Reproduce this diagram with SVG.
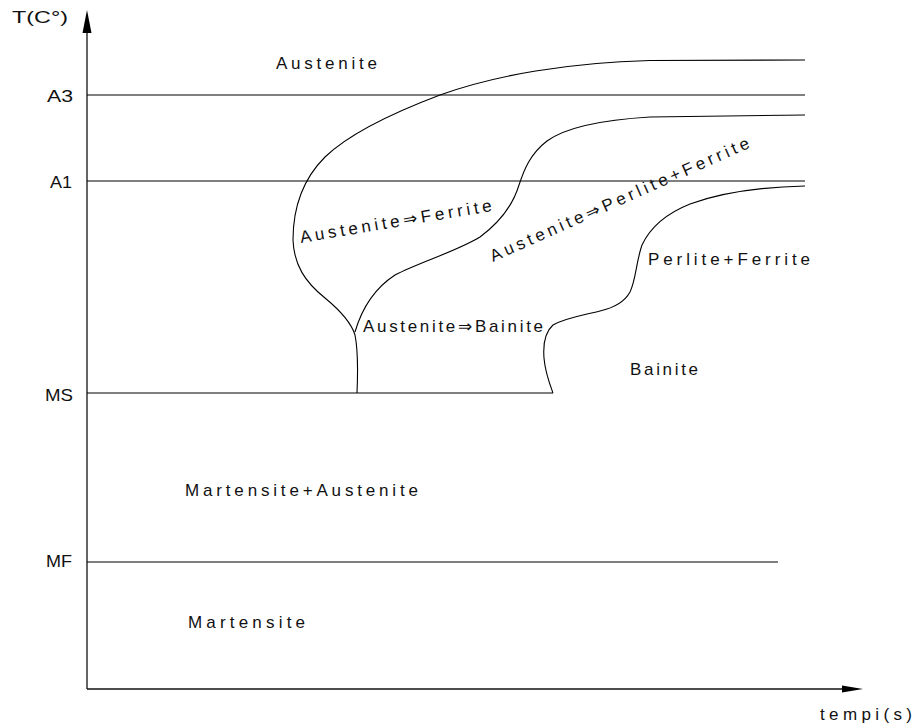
<svg xmlns="http://www.w3.org/2000/svg" width="913" height="727" viewBox="0 0 913 727">
  <style>
    .ln { fill: none; stroke: #000; stroke-width: 1.1; }
    .ax { fill: none; stroke: #111; stroke-width: 1.3; }
    .lbl { font-family: "Liberation Sans", "DejaVu Sans", Arial, sans-serif; font-size: 17px; fill: #111; }
  </style>
  <rect width="913" height="727" fill="#fff"/>

  <!-- axes -->
  <g id="axes">
    <line class="ax" x1="87" y1="689" x2="87" y2="30"/>
    <polygon points="87,10 82.5,33 91.5,33" fill="#000"/>
    <line class="ax" x1="87" y1="689" x2="845" y2="689"/>
    <polygon points="863,689 842,685.5 842,692.5" fill="#000"/>
  </g>

  <!-- reference temperature lines -->
  <g id="levels">
    <line class="ln" x1="87" y1="95" x2="805" y2="95"/>
    <line class="ln" x1="87" y1="181" x2="805" y2="181"/>
    <line class="ln" x1="87" y1="393" x2="553" y2="393"/>
    <line class="ln" x1="87" y1="562" x2="778" y2="562"/>
  </g>

  <!-- transformation curves -->
  <g id="curves">
    <path class="ln" d="M805,60 L650,60.5 C570,62.5 495,75 440,95 C395,112 350,133 325,157 C302,180 293,210 293,240 C294,265 305,282 325,298 C342,312 352,325 355,335 C358,350 358,370 357,393"/>
    <path class="ln" d="M805,115 L650,117 C600,120 565,128 547,141 C530,154 524,170 519,185 C513,205 500,222 480,237 C455,252 420,262 395,275 C375,288 362,308 355,332"/>
    <path class="ln" d="M805,186 C760,187 720,193 690,204 C665,214 650,228 642,245 C636,262 636,280 630,292 C624,303 613,308 600,311 C580,316 565,318 553,325 C545,332 543,345 544,358 C545,372 550,385 553,393"/>
  </g>

  <!-- labels -->
  <g id="labels">
    <text class="lbl" x="12" y="23" textLength="56" lengthAdjust="spacingAndGlyphs">T(C°)</text>
    <text class="lbl" x="47" y="102" textLength="26" lengthAdjust="spacingAndGlyphs">A3</text>
    <text class="lbl" x="50" y="188" textLength="22" lengthAdjust="spacingAndGlyphs">A1</text>
    <text class="lbl" x="45" y="401" textLength="28" lengthAdjust="spacingAndGlyphs">MS</text>
    <text class="lbl" x="46" y="567" textLength="26" lengthAdjust="spacingAndGlyphs">MF</text>
    <text class="lbl" x="276" y="69" textLength="101">Austenite</text>
    <text class="lbl" x="301" y="243" textLength="194" transform="rotate(-9.5 301 243)">Austenite⇒Ferrite</text>
    <text class="lbl" x="493" y="262" textLength="282" transform="rotate(-24 493 262)">Austenite⇒Perlite+Ferrite</text>
    <text class="lbl" x="363" y="332" textLength="180">Austenite⇒Bainite</text>
    <text class="lbl" x="648" y="265" textLength="162">Perlite+Ferrite</text>
    <text class="lbl" x="630" y="375" textLength="68">Bainite</text>
    <text class="lbl" x="185" y="496" textLength="233">Martensite+Austenite</text>
    <text class="lbl" x="188" y="628" textLength="117">Martensite</text>
    <text class="lbl" x="820" y="720" textLength="92">tempi(s)</text>
  </g>
</svg>
